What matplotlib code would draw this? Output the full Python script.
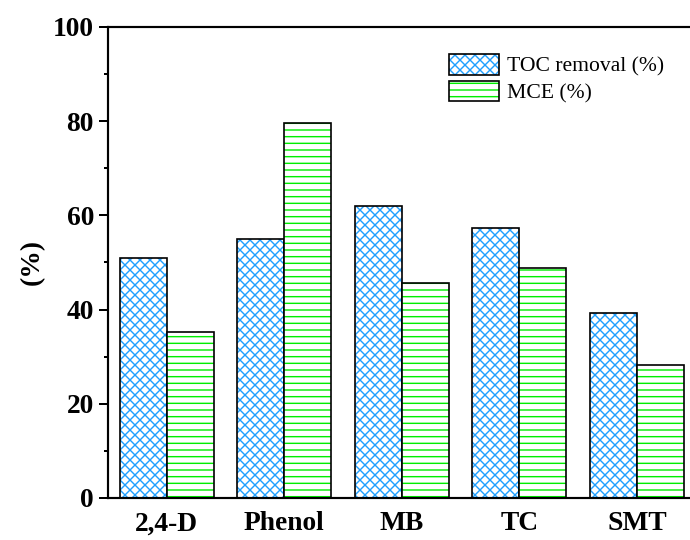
import numpy as np
import matplotlib
matplotlib.use("Agg")
import matplotlib.pyplot as plt
from matplotlib.patches import Rectangle
from matplotlib.legend_handler import HandlerTuple

plt.rcParams['font.family'] = ['Liberation Serif', 'DejaVu Serif']
plt.rcParams['hatch.linewidth'] = 0.85

# Data
pollutants = ["2,4-D", "Phenol", "MB", "TC", "SMT"]
toc_removal = [50.9, 55.0, 61.9, 57.3, 39.3]
mce = [35.2, 79.6, 45.6, 48.8, 28.2]

blue = '#1E9FFF'
green = '#00EE00'
toc_hatch = 'xxxx'
mce_hatch = '---'

fig = plt.figure(figsize=(5.75, 4.5), dpi=120)
ax = fig.add_axes([0.1565, 0.0778, 0.8518, 0.8722])

x = np.arange(1, len(pollutants) + 1)
w = 0.4

# hatched fill first, black outline drawn on top
ax.bar(x - w / 2, toc_removal, w, color='white', edgecolor=blue, hatch=toc_hatch, linewidth=0)
ax.bar(x - w / 2, toc_removal, w, fill=False, edgecolor='black', linewidth=1.0)
ax.bar(x + w / 2, mce, w, color='white', edgecolor=green, hatch=mce_hatch, linewidth=0)
ax.bar(x + w / 2, mce, w, fill=False, edgecolor='black', linewidth=1.0)

ax.set_xlim(0.5, 5.5)
ax.set_ylim(0, 100)
ax.set_yticks(np.arange(0, 101, 20))
ax.set_yticks(np.arange(10, 100, 20), minor=True)
ax.set_xticks(x)
ax.set_xticklabels(pollutants)

for lab in ax.get_xticklabels() + ax.get_yticklabels():
    lab.set_fontweight('bold')
    lab.set_fontsize(16.5)

ax.tick_params(axis='y', which='major', direction='out', length=5.4, width=1.2, pad=3)
ax.tick_params(axis='y', which='minor', direction='out', length=2.6, width=1.2)
ax.tick_params(axis='x', length=0, pad=8)

for side in ['left', 'bottom', 'top', 'right']:
    ax.spines[side].set_linewidth(1.3)

ax.set_ylabel("(%)", fontsize=16.5, fontweight='bold', labelpad=5)

# legend handles: hatch patch + outline patch overlaid
h1 = (Rectangle((0, 0), 1, 1, facecolor='white', edgecolor=blue, hatch=toc_hatch, linewidth=0),
      Rectangle((0, 0), 1, 1, fill=False, edgecolor='black', linewidth=1.0))
h2 = (Rectangle((0, 0), 1, 1, facecolor='white', edgecolor=green, hatch=mce_hatch, linewidth=0),
      Rectangle((0, 0), 1, 1, fill=False, edgecolor='black', linewidth=1.0))
ax.legend([h1, h2], ["TOC removal (%)", "MCE (%)"],
          handler_map={tuple: HandlerTuple(ndivide=1, pad=0)},
          loc='upper left', bbox_to_anchor=(0.58, 0.943), frameon=False,
          fontsize=13, handlelength=2.3, handleheight=1.1, labelspacing=0.18,
          handletextpad=0.37, borderpad=0, borderaxespad=0)

fig.savefig("out.png", dpi=120)
